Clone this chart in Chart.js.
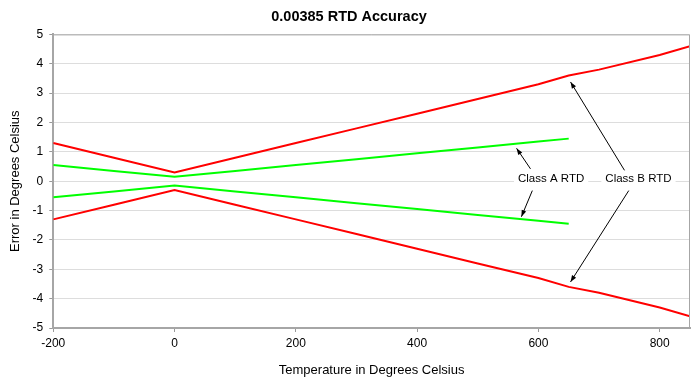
<!DOCTYPE html>
<html>
<head>
<meta charset="utf-8">
<script src="https://cdn.jsdelivr.net/npm/chart.js@4.4.1/dist/chart.umd.min.js"></script>
<style>
  html, body { margin: 0; padding: 0; background: #fff; }
  #wrap { width: 700px; height: 386px; }
</style>
</head>
<body>
<div id="wrap"><canvas id="rtdChart" width="700" height="386"></canvas></div>
<script>
// temperatures in degrees C
const temps = [-200, -100, 0, 100, 200, 300, 400, 500, 600, 650, 700, 800, 850];
const classBUpper = [1.3, 0.8, 0.3, 0.8, 1.3, 1.8, 2.3, 2.8, 3.3, 3.6, 3.8, 4.3, 4.6];
const classBLower = [-1.3, -0.8, -0.3, -0.8, -1.3, -1.8, -2.3, -2.8, -3.3, -3.6, -3.8, -4.3, -4.6];
const tempsA = [-200, -100, 0, 100, 200, 300, 400, 500, 600, 650];
const classAUpper = [0.55, 0.35, 0.15, 0.35, 0.55, 0.75, 0.95, 1.15, 1.35, 1.45];
const classALower = [-0.55, -0.35, -0.15, -0.35, -0.55, -0.75, -0.95, -1.15, -1.35, -1.45];
const xTicks = [-200, 0, 200, 400, 600, 800];

// callouts: label position and arrows (start -> tip), in data units
const callouts = [
    { text: 'Class A RTD', x: 621, y: 0.08,
      arrows: [[587, 0.42, 564, 1.12], [590, -0.32, 572, -1.21]] },
    { text: 'Class B RTD', x: 765, y: 0.08,
      arrows: [[742, 0.37, 653, 3.38], [749, -0.32, 653, -3.43]] }
];

const pts = (xs, ys) => xs.map((x, i) => ({ x: x, y: ys[i] }));
const FONT = '"Liberation Sans", Arial, sans-serif';

const frame = {
    id: 'frame',
    afterDatasetsDraw(chart) {
        const { ctx, chartArea: a } = chart;
        ctx.save();
        ctx.strokeStyle = '#a6a6a6';
        ctx.lineWidth = 1;
        ctx.beginPath();
        ctx.moveTo(a.left, a.top + 0.5);
        ctx.lineTo(a.right - 0.5, a.top + 0.5);
        ctx.lineTo(a.right - 0.5, a.bottom);
        ctx.stroke();
        ctx.restore();
    }
};

const notes = {
    id: 'notes',
    afterDatasetsDraw(chart) {
        const { ctx, scales: { x, y } } = chart;
        ctx.save();
        ctx.font = '11.5px ' + FONT;
        ctx.textAlign = 'center';
        ctx.textBaseline = 'middle';
        callouts.forEach(c => {
            const cx = x.getPixelForValue(c.x), cy = y.getPixelForValue(c.y);
            const w = ctx.measureText(c.text).width + 8;
            ctx.fillStyle = '#fff';
            ctx.fillRect(cx - w / 2, cy - 8, w, 16);
            ctx.fillStyle = '#000';
            ctx.fillText(c.text, cx, cy);
            c.arrows.forEach(([x0, y0, x1, y1]) => {
                const px0 = x.getPixelForValue(x0), py0 = y.getPixelForValue(y0);
                const px1 = x.getPixelForValue(x1), py1 = y.getPixelForValue(y1);
                const ang = Math.atan2(py1 - py0, px1 - px0);
                ctx.strokeStyle = '#000';
                ctx.lineWidth = 1;
                ctx.beginPath();
                ctx.moveTo(px0, py0);
                ctx.lineTo(px1, py1);
                ctx.stroke();
                ctx.beginPath();
                ctx.moveTo(px1, py1);
                ctx.lineTo(px1 - 7 * Math.cos(ang - 0.35), py1 - 7 * Math.sin(ang - 0.35));
                ctx.lineTo(px1 - 7 * Math.cos(ang + 0.35), py1 - 7 * Math.sin(ang + 0.35));
                ctx.closePath();
                ctx.fillStyle = '#000';
                ctx.fill();
            });
        });
        ctx.restore();
    }
};

const line = (data, color) => ({
    data: data,
    borderColor: color,
    borderWidth: 2,
    pointRadius: 0,
    tension: 0,
    fill: false
});

new Chart(document.getElementById('rtdChart'), {
    type: 'line',
    data: {
        datasets: [
            line(pts(temps, classBUpper), '#ff0000'),
            line(pts(tempsA, classAUpper), '#00ff00'),
            line(pts(tempsA, classALower), '#00ff00'),
            line(pts(temps, classBLower), '#ff0000')
        ]
    },
    options: {
        responsive: false,
        animation: false,
        layout: { padding: { top: 0, right: 10, bottom: 8, left: 8 } },
        plugins: {
            legend: { display: false },
            tooltip: { enabled: false },
            title: {
                display: true,
                text: '0.00385 RTD Accuracy',
                color: '#000',
                font: { family: FONT, size: 14.5, weight: 'bold' },
                padding: { top: 8, bottom: 9 }
            }
        },
        scales: {
            x: {
                type: 'linear',
                min: -200,
                max: 850,
                afterBuildTicks: s => { s.ticks = xTicks.map(v => ({ value: v })); },
                grid: { drawOnChartArea: false, drawTicks: true, tickLength: 4, tickColor: '#999' },
                border: { color: '#a6a6a6', width: 2 },
                ticks: { color: '#000', padding: 4, font: { family: FONT, size: 12 } },
                title: {
                    display: true,
                    text: 'Temperature in Degrees Celsius',
                    color: '#000',
                    font: { family: FONT, size: 13 },
                    padding: { top: 8, bottom: 0 }
                }
            },
            y: {
                min: -5,
                max: 5,
                ticks: { stepSize: 1, color: '#000', padding: 6, font: { family: FONT, size: 12 } },
                grid: { color: '#dddddd', tickLength: 4, tickColor: '#999' },
                border: { color: '#a6a6a6', width: 2 },
                title: {
                    display: true,
                    text: 'Error in Degrees Celsius',
                    color: '#000',
                    font: { family: FONT, size: 13 },
                    padding: { top: 0, bottom: 3 }
                }
            }
        }
    },
    plugins: [frame, notes]
});
</script>
</body>
</html>
